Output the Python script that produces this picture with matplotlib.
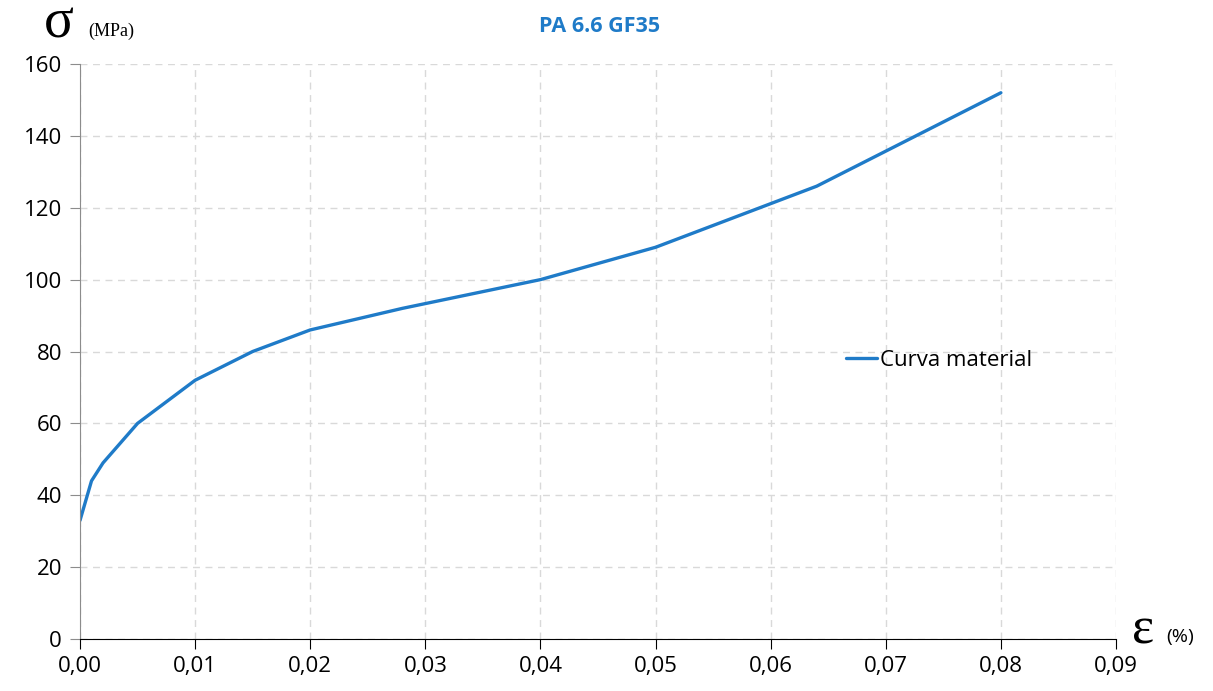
import matplotlib.pyplot as plt
from matplotlib.ticker import FuncFormatter

# stress-strain curve for PA 6.6 GF35
strain = [0.0, 0.001, 0.002, 0.005, 0.010, 0.015, 0.020, 0.028, 0.040, 0.050, 0.064, 0.080]
stress = [33, 44, 49, 60, 72, 80, 86, 92, 100, 109, 126, 152]

x_ticks = [0.0, 0.01, 0.02, 0.03, 0.04, 0.05, 0.06, 0.07, 0.08, 0.09]
y_ticks = [0, 20, 40, 60, 80, 100, 120, 140, 160]

blue = "#1f7bc8"
plt.rcParams["font.family"] = ["Open Sans", "DejaVu Sans"]

fig = plt.figure(figsize=(12.13, 6.91), dpi=100)
ax = fig.add_axes([80 / 1213, 1 - 639 / 691, (1116 - 80) / 1213, (639 - 64) / 691])

ax.plot(strain, stress, color=blue, lw=2.4, label="Curva material", solid_capstyle="round")

ax.set_xlim(0, 0.09)
ax.set_ylim(0, 160)
ax.set_xticks(x_ticks)
ax.set_yticks(y_ticks)
ax.xaxis.set_major_formatter(FuncFormatter(lambda v, p: f"{v:.2f}".replace(".", ",")))
ax.grid(True, ls=(0, (5, 4)), color="#d9d9d9", lw=1)
ax.set_axisbelow(True)

for s in ["top", "right"]:
    ax.spines[s].set_visible(False)
ax.spines["left"].set_color("#8c8c8c")
ax.spines["bottom"].set_color("black")
ax.tick_params(axis="x", direction="out", length=7, colors="black", labelsize=16, pad=5)
ax.tick_params(axis="y", direction="out", length=7, colors="#8c8c8c", labelcolor="black", labelsize=16, pad=6)
ax.spines["bottom"].set_zorder(3)

ax.legend(loc="center left", bbox_to_anchor=(0.72, 0.484), frameon=False, fontsize=16,
          handlelength=1.4, handletextpad=0.15)

fig.text(600 / 1213, 1 - 27 / 691, "PA 6.6 GF35", color=blue, fontsize=15.5, fontweight="bold",
         ha="center", va="center")
fig.text(44 / 1213, 1 - 24 / 691, "σ", family="Liberation Serif", fontsize=40, ha="left", va="center")
fig.text(88 / 1213, 1 - 31 / 691, "(MPa)", family="Liberation Serif", fontsize=13, ha="left", va="center")
fig.text(1132 / 1213, 1 - 630 / 691, "ε", family="Liberation Serif", fontsize=38, ha="left", va="center")
fig.text(1166 / 1213, 1 - 637 / 691, "(%)", fontsize=14, ha="left", va="center")

fig.savefig("out.png", dpi=100)
